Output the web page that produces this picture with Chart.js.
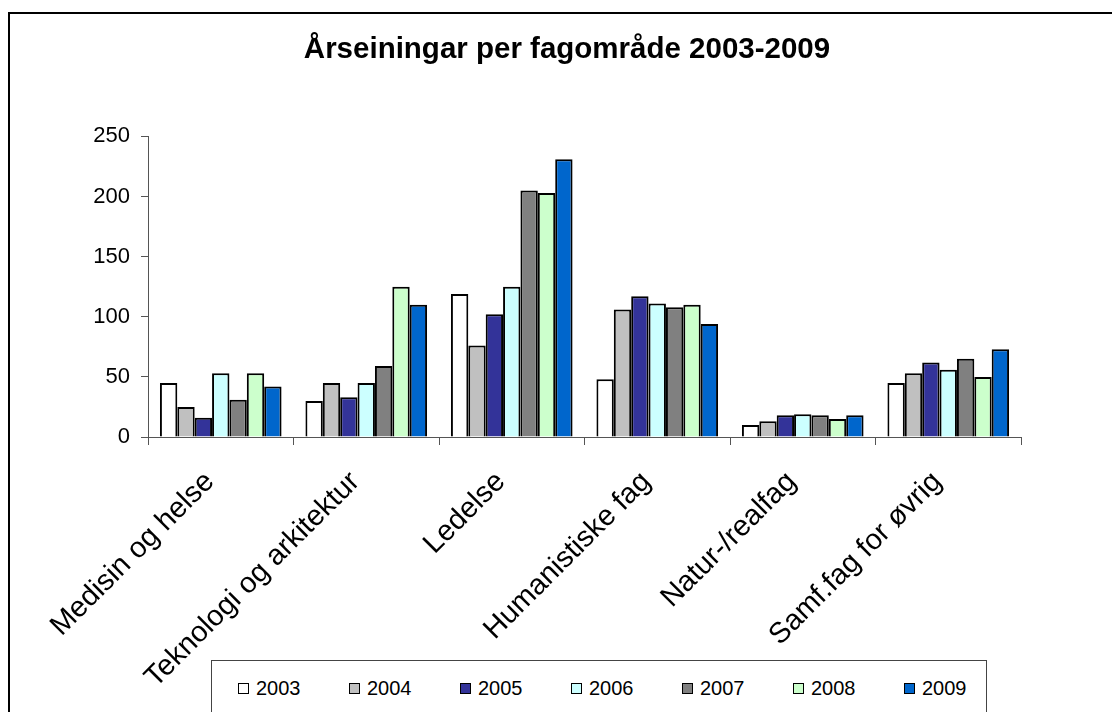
<!DOCTYPE html>
<html>
<head>
<meta charset="utf-8">
<script src="https://cdn.jsdelivr.net/npm/chart.js@4/dist/chart.umd.min.js"></script>
<style>
  html, body { margin: 0; padding: 0; background: #fff; overflow: hidden; }
  #wrap { position: relative; width: 1112px; height: 712px; }
  #frame { position: absolute; left: 8px; top: 12px; width: 1200px; height: 800px;
    border-left: 2px solid #000; border-top: 2px solid #000; }
  #c { position: absolute; left: 0; top: 0; }
  #legend { position: absolute; left: 211px; top: 660px; width: 776px; height: 80px;
    box-sizing: border-box; border: 1px solid #444; background: #fff; display: flex; padding-left: 26px;
    font-family: "Liberation Sans", Arial, sans-serif; font-size: 20px; color: #000; }
  .item { width: 111px; flex: none; display: flex; align-items: center; height: 54px; }
  .sw { width: 9px; height: 9px; border: 1px solid #000; margin-right: 7px; }
</style>
</head>
<body>
<div id="wrap">
  <div id="frame"></div>
  <canvas id="c" width="1112" height="712"></canvas>
  <div id="legend"></div>
</div>
<script>
const kategorier = ["Medisin og helse", "Teknologi og arkitektur", "Ledelse", "Humanistiske fag", "Natur-/realfag", "Samf.fag for øvrig"];
const aar = ["2003", "2004", "2005", "2006", "2007", "2008", "2009"];

const v2003 = [45, 30, 119, 48, 10, 45];
const v2004 = [25, 45, 76, 106, 13, 53];
const v2005 = [16, 33, 102, 117, 18, 62];
const v2006 = [53, 45, 125, 111, 19, 56];
const v2007 = [31, 59, 205, 108, 18, 65];
const v2008 = [53, 125, 203, 110, 15, 50];
const v2009 = [42, 110, 231, 94, 18, 73];

const yTicks = [0, 50, 100, 150, 200, 250];

const farger = ["#FFFFFF", "#C0C0C0", "#333399", "#CCFFFF", "#808080", "#CCFFCC", "#0066CC"];
const serier = [v2003, v2004, v2005, v2006, v2007, v2008, v2009];

const font = '"Liberation Sans", Arial, sans-serif';

const datasets = aar.map((a, i) => ({
  label: a,
  data: serier[i],
  backgroundColor: farger[i],
  borderColor: "#000",
  borderWidth: 2,
  borderSkipped: "bottom",
  barPercentage: 1.0,
  categoryPercentage: 0.836
}));

// y-etikettene skal ikke klippes av layout-paddingen
const ikkeKlipp = {
  id: "ikkeKlipp",
  afterLayout(chart) { chart.scales.y.left = 0; }
};

new Chart(document.getElementById("c"), {
  type: "bar",
  data: { labels: kategorier, datasets: datasets },
  plugins: [ikkeKlipp],
  options: {
    responsive: false,
    animation: false,
    layout: { padding: { left: 113, right: 91, top: 13, bottom: 0 } },
    plugins: {
      legend: { display: false },
      tooltip: { enabled: false },
      title: {
        display: true,
        text: "Årseiningar per fagområde 2003-2009",
        color: "#000",
        font: { family: font, size: 29.5, weight: "bold" },
        padding: { top: 19, bottom: 69 }
      }
    },
    scales: {
      x: {
        offset: true,
        grid: { display: true, drawOnChartArea: false, offset: true, tickLength: 8, color: "#555", lineWidth: 1 },
        border: { display: true, color: "#555", width: 1 },
        ticks: {
          color: "#000",
          font: { family: font, size: 29 },
          minRotation: 45,
          maxRotation: 45,
          autoSkip: false,
          padding: 20,
          labelOffset: -11
        },
        afterFit: s => { s.height = 275; }
      },
      y: {
        min: 0,
        max: 250,
        afterBuildTicks: s => { s.ticks = yTicks.map(v => ({ value: v })); },
        grid: { display: true, drawOnChartArea: false, tickLength: 7, color: "#555" },
        border: { display: true, color: "#555", width: 1 },
        ticks: { color: "#000", font: { family: font, size: 22 }, padding: 11 },
        afterFit: s => { s.width = 35; }
      }
    }
  }
});

const leg = document.getElementById("legend");
aar.forEach((a, i) => {
  const it = document.createElement("div");
  it.className = "item";
  it.innerHTML = `<span class="sw" style="background:${farger[i]}"></span><span>${a}</span>`;
  leg.appendChild(it);
});
</script>
</body>
</html>
